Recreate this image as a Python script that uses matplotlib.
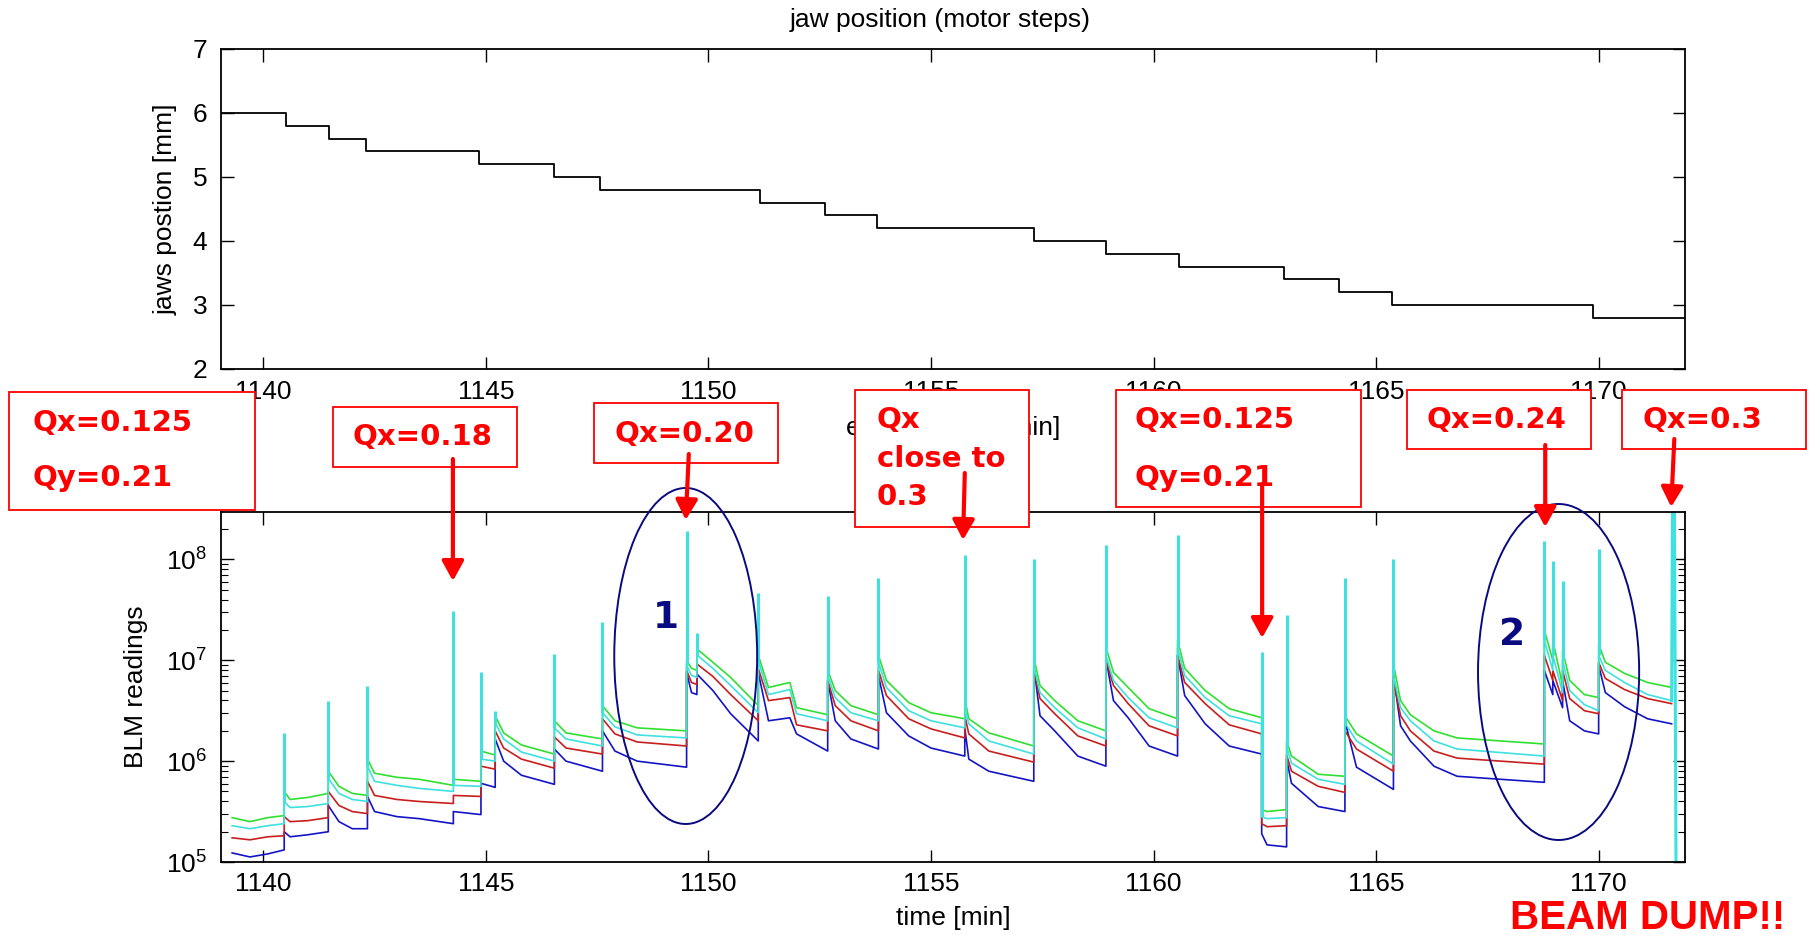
import numpy as np
import matplotlib
matplotlib.use("Agg")
import matplotlib.pyplot as plt
from matplotlib.patches import Rectangle, Ellipse, FancyArrowPatch
from matplotlib.transforms import blended_transform_factory

plt.rcParams["font.family"] = ["Liberation Sans", "DejaVu Sans"]
plt.rcParams["mathtext.fontset"] = "custom"
plt.rcParams["mathtext.rm"] = "Liberation Sans"
plt.rcParams["mathtext.it"] = "Liberation Sans"
plt.rcParams["mathtext.default"] = "regular"

# jaw position: time of each step [min] and the position held from then on [mm]
jaw_t = [1139.05, 1140.52, 1141.47, 1142.30, 1144.84, 1146.54, 1147.56, 1151.15,
         1152.62, 1153.78, 1157.31, 1158.94, 1160.57, 1162.93, 1164.16, 1165.35,
         1169.87, 1171.94]
jaw_pos = [6.0, 5.8, 5.6, 5.4, 5.2, 5.0, 4.8, 4.6, 4.4, 4.2, 4.0, 3.8, 3.6, 3.4,
           3.2, 3.0, 2.8, 2.8]

blm_t = [1139.30, 1139.70, 1140.10, 1140.47,
         1140.47, 1140.60, 1141.00, 1141.46,
         1141.46, 1141.70, 1142.00, 1142.34,
         1142.34, 1142.50, 1143.00, 1143.50, 1144.27,
         1144.27, 1144.89,
         1144.89, 1145.21,
         1145.21, 1145.40, 1145.80, 1146.54,
         1146.54, 1146.80, 1147.62,
         1147.62, 1147.90, 1148.40, 1149.51,
         1149.51, 1149.62, 1149.74, 1149.75, 1150.10, 1150.50, 1151.12,
         1151.12, 1151.35, 1151.83, 1151.98, 1152.68,
         1152.68, 1152.85, 1153.20, 1153.82,
         1153.82, 1154.00, 1154.50, 1155.00, 1155.76,
         1155.76, 1155.85, 1156.30, 1157.31,
         1157.31, 1157.45, 1157.78, 1158.30, 1158.93,
         1158.93, 1159.10, 1159.43, 1159.90, 1160.54,
         1160.54, 1160.70, 1161.16, 1161.70, 1162.43,
         1162.43, 1162.55, 1162.99,
         1162.99, 1163.10, 1163.70, 1164.30,
         1164.30, 1164.56, 1165.39,
         1165.39, 1165.55, 1165.77, 1166.30, 1166.82, 1168.78,
         1168.78, 1168.97,
         1168.97, 1169.19,
         1169.19, 1169.35, 1169.68, 1170.00,
         1170.00, 1170.15, 1170.58, 1171.10, 1171.64]
green_exp = [5.44, 5.40, 5.44, 5.46,
             5.70, 5.62, 5.64, 5.68,
             5.90, 5.75, 5.68, 5.66,
             6.02, 5.88, 5.84, 5.82, 5.76,
             5.82, 5.80,
             6.10, 6.06,
             6.45, 6.28, 6.16, 6.07,
             6.40, 6.28, 6.22,
             6.55, 6.40, 6.33, 6.30,
             7.00, 6.92, 6.90, 7.11, 6.98, 6.83, 6.55,
             7.05, 6.73, 6.78, 6.53, 6.46,
             6.90, 6.70, 6.55, 6.46,
             7.05, 6.80, 6.58, 6.48, 6.42,
             6.62, 6.42, 6.28, 6.15,
             7.03, 6.75, 6.60, 6.40, 6.30,
             7.13, 6.88, 6.73, 6.52, 6.42,
             7.20, 6.92, 6.70, 6.52, 6.43,
             5.52, 5.50, 5.52,
             6.20, 6.05, 5.87, 5.85,
             6.45, 6.27, 6.05,
             6.96, 6.60, 6.46, 6.30, 6.23, 6.17,
             7.30, 7.00,
             7.20, 6.75,
             7.10, 6.80, 6.66, 6.63,
             7.16, 6.98, 6.87, 6.78, 6.73]
cyan_exp = [5.36, 5.33, 5.36, 5.38,
            5.60, 5.54, 5.55, 5.58,
            5.83, 5.68, 5.62, 5.60,
            5.95, 5.80, 5.76, 5.73, 5.70,
            5.76, 5.75,
            6.02, 6.00,
            6.38, 6.22, 6.09, 6.00,
            6.33, 6.22, 6.15,
            6.48, 6.34, 6.26, 6.23,
            6.95, 6.85, 6.83, 7.05, 6.92, 6.75, 6.48,
            7.00, 6.66, 6.71, 6.47, 6.40,
            6.85, 6.63, 6.48, 6.40,
            6.98, 6.73, 6.50, 6.40, 6.33,
            6.52, 6.37, 6.20, 6.07,
            6.95, 6.68, 6.53, 6.33, 6.22,
            7.05, 6.80, 6.63, 6.43, 6.33,
            7.12, 6.85, 6.63, 6.45, 6.37,
            5.45, 5.43, 5.44,
            6.14, 5.98, 5.82, 5.77,
            6.38, 6.20, 5.97,
            6.85, 6.53, 6.40, 6.20, 6.12, 6.05,
            7.20, 6.90,
            7.05, 6.68,
            7.00, 6.70, 6.56, 6.50,
            7.05, 6.90, 6.78, 6.66, 6.60]
red_exp = [5.24, 5.22, 5.25, 5.26,
           5.45, 5.40, 5.41, 5.44,
           5.70, 5.56, 5.50, 5.48,
           5.80, 5.66, 5.62, 5.60, 5.58,
           5.66, 5.65,
           5.95, 5.92,
           6.30, 6.13, 6.02, 5.93,
           6.24, 6.13, 6.07,
           6.42, 6.27, 6.19, 6.15,
           6.90, 6.78, 6.76, 6.96, 6.84, 6.66, 6.40,
           6.92, 6.60, 6.63, 6.36, 6.30,
           6.80, 6.55, 6.40, 6.30,
           6.90, 6.65, 6.42, 6.32, 6.23,
           6.45, 6.27, 6.10, 5.99,
           6.90, 6.62, 6.47, 6.25, 6.15,
           7.00, 6.75, 6.57, 6.35, 6.25,
           7.05, 6.78, 6.57, 6.36, 6.27,
           5.38, 5.35, 5.36,
           6.06, 5.90, 5.75, 5.69,
           6.30, 6.12, 5.90,
           6.80, 6.45, 6.30, 6.10, 6.03, 5.97,
           7.05, 6.80,
           6.90, 6.60,
           6.90, 6.62, 6.50, 6.47,
           6.98, 6.82, 6.71, 6.62, 6.57]
blue_exp = [5.09, 5.05, 5.08, 5.12,
            5.30, 5.25, 5.27, 5.30,
            5.56, 5.40, 5.33, 5.33,
            5.65, 5.50, 5.45, 5.43, 5.38,
            5.50, 5.47,
            5.78, 5.74,
            6.22, 6.00, 5.86, 5.77,
            6.12, 6.00, 5.90,
            6.30, 6.10, 6.00, 5.94,
            6.88, 6.68, 6.66, 6.86, 6.70, 6.47, 6.20,
            6.88, 6.40, 6.43, 6.27, 6.10,
            6.80, 6.40, 6.22, 6.12,
            6.85, 6.48, 6.25, 6.13, 6.05,
            6.33, 6.02, 5.90, 5.80,
            6.95, 6.45, 6.30, 6.05, 5.95,
            7.02, 6.60, 6.43, 6.15, 6.05,
            7.05, 6.65, 6.37, 6.15, 6.07,
            5.28, 5.17, 5.15,
            6.02, 5.78, 5.55, 5.50,
            6.40, 5.94, 5.72,
            6.85, 6.35, 6.20, 5.95, 5.85, 5.79,
            6.90, 6.66,
            6.80, 6.53,
            6.80, 6.40, 6.30, 6.27,
            6.95, 6.68, 6.54, 6.42, 6.37]

# loss spikes at each jaw move / tune change (log10 of the peak)
spike_t = [1140.47, 1141.46, 1142.34, 1144.27, 1144.89, 1145.21, 1146.54, 1147.62,
           1149.51, 1149.75, 1151.12, 1152.68, 1153.82, 1155.76, 1157.31, 1158.93,
           1160.54, 1162.43, 1162.99, 1164.30, 1165.39, 1168.78, 1168.97, 1169.19,
           1170.00]
spike_exp = [6.28, 6.60, 6.74, 7.49, 6.88, 6.50, 7.06, 7.38, 8.28, 7.27, 7.67, 7.64,
             7.82, 8.04, 8.00, 8.14, 8.24, 7.08, 7.45, 7.82, 8.00, 8.18, 7.98, 7.79,
             8.10]

# beam dump at the end of the cyan trace
dump_t = [1171.64, 1171.66, 1171.70, 1171.74]
dump_exp = [6.60, 8.70, 8.70, 4.80]

W, H = 1809, 940


def fx(px):
    return px / W


def fy(py):
    return 1 - py / H


def matlab_style(ax):
    ax.tick_params(direction="in", top=True, right=True, length=9, width=1.0,
                   labelsize=19, color="black")
    ax.tick_params(which="minor", direction="in", left=True, right=True, length=5, width=0.8)
    for s in ax.spines.values():
        s.set_linewidth(1.3)


fig = plt.figure(figsize=(W / 100, H / 100), dpi=100)

# --- jaw position ---
ax1 = fig.add_axes([fx(221), fy(369), fx(1685) - fx(221), fy(49) - fy(369)])
ax1.step(jaw_t, jaw_pos, where="post", color="black", lw=1.3)
ax1.set_xlim(1139.05, 1171.94)
ax1.set_ylim(2, 7)
ax1.set_xticks(np.arange(1140, 1171, 5))
ax1.set_yticks(np.arange(2, 8, 1))
matlab_style(ax1)
ax1.tick_params(axis="x", pad=8)
ax1.tick_params(axis="y", pad=10)
ax1.set_ylabel("jaws postion [mm]", fontsize=19, va="center")
ax1.yaxis.set_label_coords(-0.038, 0.5)
ax1.set_xlabel("elapsed time [min]", fontsize=19, va="center")
ax1.xaxis.set_label_coords(0.5, (369 - 428) / 320)
ax1.text(0.491, (369 - 20) / 320, "jaw position (motor steps)", transform=ax1.transAxes,
         ha="center", va="center", fontsize=19)

# --- BLM readings ---
ax2 = fig.add_axes([fx(221), fy(862), fx(1685) - fx(221), fy(512) - fy(862)])
t = np.array(blm_t)
colors = {"blue": "#1414c4", "red": "#c81e1e", "green": "#30e030", "cyan": "#3ee0e0"}
ax2.plot(t, 10 ** np.array(blue_exp), color=colors["blue"], lw=1.2)
ax2.plot(t, 10 ** np.array(red_exp), color=colors["red"], lw=1.2)
ax2.plot(t, 10 ** np.array(green_exp), color=colors["green"], lw=1.2)
ax2.plot(t, 10 ** np.array(cyan_exp), color=colors["cyan"], lw=1.2)
spike_base = np.interp(spike_t, t, np.array(cyan_exp))
ax2.vlines(spike_t, 10 ** spike_base, 10 ** np.array(spike_exp), color=colors["cyan"], lw=2.2)
ax2.plot(dump_t, 10 ** np.array(dump_exp), color=colors["cyan"], lw=2.2)
ax2.set_yscale("log")
ax2.set_xlim(1139.05, 1171.94)
ax2.set_ylim(1e5, 10 ** 8.47)
ax2.set_xticks(np.arange(1140, 1171, 5))
matlab_style(ax2)
ax2.tick_params(axis="x", pad=7)
ax2.tick_params(axis="y", pad=10)
ax2.set_ylabel("BLM readings", fontsize=19, va="center")
ax2.yaxis.set_label_coords(-0.058, 0.5)
ax2.set_xlabel("time [min]", fontsize=19, va="center")
ax2.xaxis.set_label_coords(0.5, (862 - 918) / 350)

# --- annotations ---
red = "#ff0000"
navy = "#0a0a80"
ann_font = dict(color=red, fontsize=21, fontweight="bold", family="DejaVu Sans",
                va="center", ha="left", zorder=7)

boxes = [(9, 392, 255, 510), (333, 407, 517, 467), (594, 403, 778, 463),
         (855, 390, 1029, 527), (1116, 390, 1361, 507), (1407, 390, 1591, 449),
         (1622, 390, 1806, 449)]
for x0, y0, x1, y1 in boxes:
    fig.add_artist(Rectangle((fx(x0), fy(y1)), fx(x1) - fx(x0), fy(y0) - fy(y1),
                             transform=fig.transFigure, facecolor="white",
                             edgecolor=red, lw=1.3, zorder=5))

labels = [(32, 423, "Qx=0.125"), (32, 478, "Qy=0.21"), (353, 437, "Qx=0.18"),
          (614, 434, "Qx=0.20"), (877, 420, "Qx"), (877, 459, "close to"),
          (877, 497, "0.3"), (1135, 420, "Qx=0.125"), (1135, 478, "Qy=0.21"),
          (1427, 420, "Qx=0.24"), (1642, 420, "Qx=0.3")]
for x, y, s in labels:
    fig.text(fx(x), fy(y), s, **ann_font)

fig.text(fx(1648), fy(918), "BEAM DUMP!!", color=red, fontsize=29, fontweight="bold",
         ha="center", va="center", family="Liberation Sans")

# arrows: (tail time, tail y px, tip time, tip y px)
mixed = blended_transform_factory(ax2.transData, fig.transFigure)
arrows = [(1144.26, 459, 1144.26, 581), (1149.56, 454, 1149.49, 520),
          (1155.76, 473, 1155.72, 540), (1162.44, 484, 1162.44, 638),
          (1168.80, 445, 1168.80, 527), (1171.70, 439, 1171.63, 507)]
for t0, y0, t1, y1 in arrows:
    fig.add_artist(FancyArrowPatch((t0, fy(y0)), (t1, fy(y1)), transform=mixed,
                                   arrowstyle="-|>,head_width=0.33,head_length=0.6",
                                   mutation_scale=20, lw=3, color=red,
                                   shrinkA=0, shrinkB=0, zorder=6))

for tc, yc, wt, hp, num, nx, ny in [(1149.49, 656, 3.21, 336, "1", 666, 618),
                                    (1169.10, 672, 3.62, 336, "2", 1512, 635)]:
    fig.add_artist(Ellipse((tc, fy(yc)), wt, hp / H, transform=mixed, fill=False,
                           edgecolor=navy, lw=1.4, zorder=4))
    fig.text(fx(nx), fy(ny), num, color=navy, fontsize=27, fontweight="bold",
             family="DejaVu Sans", ha="center", va="center", zorder=4)

fig.savefig("out.png", dpi=100)
